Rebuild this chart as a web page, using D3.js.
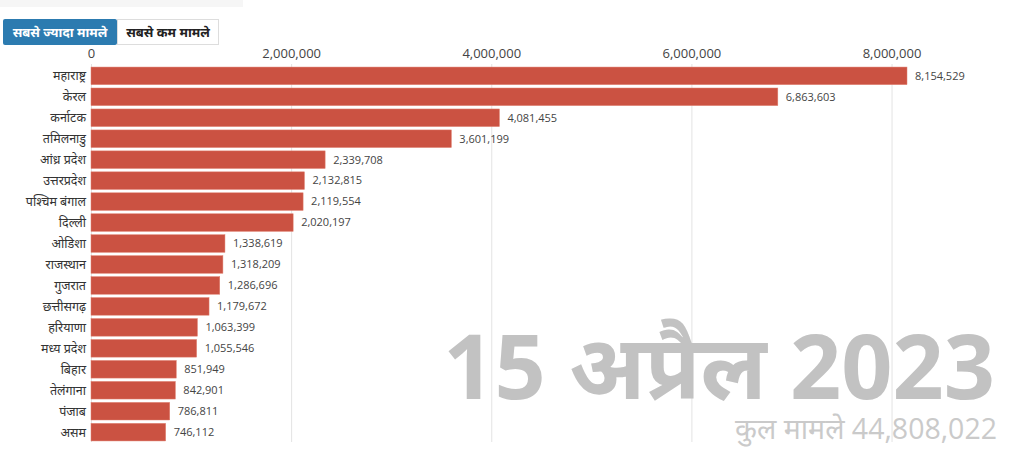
<!DOCTYPE html>
<html><head><meta charset="utf-8">
<script src="https://cdn.jsdelivr.net/npm/d3@7"></script>
<style>
body{margin:0;background:#fff;font-family:"Open Sans","Noto Sans",sans-serif;}
svg{display:block}
</style></head><body>
<svg id="c" width="1009" height="451"></svg>
<script>
const states = ["महाराष्ट्र","केरल","कर्नाटक","तमिलनाडु","आंध्र प्रदेश","उत्तरप्रदेश","पश्चिम बंगाल","दिल्ली","ओडिशा","राजस्थान","गुजरात","छत्तीसगढ़","हरियाणा","मध्य प्रदेश","बिहार","तेलंगाना","पंजाब","असम"];
const cases = [8154529,6863603,4081455,3601199,2339708,2132815,2119554,2020197,1338619,1318209,1286696,1179672,1063399,1055546,851949,842901,786811,746112];
const ticks = [0,2000000,4000000,6000000,8000000];
const dateLabel = "15 अप्रैल 2023";
const totalLabel = "कुल मामले 44,808,022";
const buttons = ["सबसे ज्यादा मामले","सबसे कम मामले"];

const svg = d3.select("#c");
const fmt = d3.format(",");
const x = d3.scaleLinear().domain([0, 8154529]).range([91, 907]);
const y = d3.scaleBand().domain(states).range([66, 442]).paddingInner(0.16).paddingOuter(0.05);

// top strip
svg.append("rect").attr("x",0).attr("y",0).attr("width",243).attr("height",7).attr("fill","#f6f6f6");

// buttons
const b0 = svg.append("g");
b0.append("rect").attr("x",3).attr("y",19).attr("width",114).attr("height",26).attr("fill","#2c7bb0").attr("rx",2);
b0.append("text").attr("x",60).attr("y",37).attr("text-anchor","middle").attr("fill","#fff").attr("font-weight","700").attr("font-size",13).text(buttons[0]);
b0.append("rect").attr("x",117.5).attr("y",19.5).attr("width",101).attr("height",25).attr("fill","#fff").attr("stroke","#ddd");
b0.append("text").attr("x",168).attr("y",37).attr("text-anchor","middle").attr("fill","#222").attr("font-weight","700").attr("font-size",13).text(buttons[1]);

// grid lines
svg.append("g").selectAll("line").data(ticks).join("line")
  .attr("x1",d=>x(d)+0.5).attr("x2",d=>x(d)+0.5).attr("y1",64).attr("y2",442)
  .attr("stroke","#e3e3e3").attr("stroke-width",1);

// axis
const ax = svg.append("g").attr("transform","translate(0,60)").call(d3.axisTop(x).tickValues(ticks).tickFormat(fmt).tickSize(0).tickPadding(2));
ax.select(".domain").remove();
ax.selectAll("text").attr("font-size",13).attr("fill","#444").attr("font-family","'Open Sans',sans-serif");

// big date
const dt = svg.append("text").attr("x",995).attr("y",399).attr("text-anchor","end")
  .attr("fill","#c2c2c2").attr("font-weight","700").attr("font-size",92).text(dateLabel);
const tot = svg.append("text").attr("x",997).attr("y",439).attr("text-anchor","end")
  .attr("fill","#cacaca").attr("font-size",27).text(totalLabel);

// bars
svg.append("g").selectAll("rect").data(states).join("rect")
  .attr("x",x(0)).attr("y",d=>y(d)).attr("width",(d,i)=>x(cases[i])-x(0)).attr("height",y.bandwidth())
  .attr("fill","#cb5242").attr("stroke","#e08070").attr("stroke-width",0.5);

// state labels
svg.append("g").selectAll("text").data(states).join("text")
  .attr("x",86).attr("y",d=>y(d)+y.bandwidth()/2).attr("dy","0.35em").attr("text-anchor","end")
  .attr("font-size",12.5).attr("fill","#333").text(d=>d);

// values
svg.append("g").selectAll("text").data(states).join("text")
  .attr("x",(d,i)=>x(cases[i])+8).attr("y",d=>y(d)+y.bandwidth()/2).attr("dy","0.35em")
  .attr("font-size",11).attr("fill","#444").text((d,i)=>fmt(cases[i]));

// fit big texts
function fit(t, w){ const l=t.node().getComputedTextLength(); if(l>0){ const fs=+t.attr("font-size"); t.attr("font-size", fs*w/l);} }
fit(dt, 552);
fit(tot, 262);
</script></body></html>
